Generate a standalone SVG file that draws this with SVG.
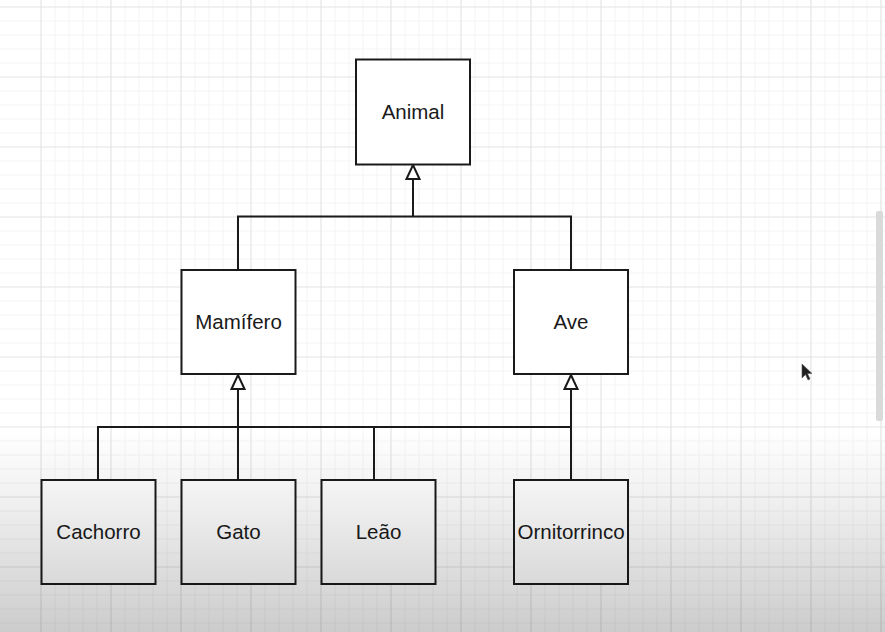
<svg xmlns="http://www.w3.org/2000/svg" width="885" height="632" viewBox="0 0 885 632">
  <defs>
    <style>
      .grid { stroke: #e4e4e4; stroke-width: 1.2; fill: none; }
      .minor { stroke: #f4f4f4; stroke-width: 1; fill: none; }
      .box { fill: #ffffff; stroke: #1a1a1a; stroke-width: 2; }
      .label { font-family: "Liberation Sans", Arial, sans-serif; font-size: 20.5px; fill: #1a1a1a; text-anchor: middle; }
      .edge { fill: none; stroke: #1a1a1a; stroke-width: 2; }
    </style>
    <marker id="inherit" viewBox="0 0 16 16" refX="15" refY="8" markerWidth="16" markerHeight="16" markerUnits="userSpaceOnUse" orient="auto">
      <path d="M1,1.5 L15,8 L1,14.5 Z" fill="#ffffff" stroke="#1a1a1a" stroke-width="2" stroke-linejoin="miter"/>
    </marker>
    <linearGradient id="shade" x1="0" y1="0" x2="0" y2="1">
      <stop offset="0" stop-color="#000000" stop-opacity="0"/>
      <stop offset="0.35" stop-color="#000000" stop-opacity="0.06"/>
      <stop offset="1" stop-color="#000000" stop-opacity="0.2"/>
    </linearGradient>
  </defs>

  <rect width="885" height="632" fill="#ffffff"/>

  <g id="grid">
    <path class="minor" d="M55,0V632M69,0V632M83,0V632M97,0V632M125,0V632M139,0V632M153,0V632M167,0V632M195,0V632M209,0V632M223,0V632M237,0V632M265,0V632M279,0V632M293,0V632M307,0V632M335,0V632M349,0V632M363,0V632M377,0V632M405,0V632M419,0V632M433,0V632M447,0V632M475,0V632M489,0V632M503,0V632M517,0V632M545,0V632M559,0V632M573,0V632M587,0V632M615,0V632M629,0V632M643,0V632M657,0V632M685,0V632M699,0V632M713,0V632M727,0V632M755,0V632M769,0V632M783,0V632M797,0V632M825,0V632M839,0V632M853,0V632M867,0V632"/>
    <path class="minor" d="M0,21H885M0,35H885M0,49H885M0,63H885M0,91H885M0,105H885M0,119H885M0,133H885M0,161H885M0,175H885M0,189H885M0,203H885M0,231H885M0,245H885M0,259H885M0,273H885M0,301H885M0,315H885M0,329H885M0,343H885M0,371H885M0,385H885M0,399H885M0,413H885M0,441H885M0,455H885M0,469H885M0,483H885M0,511H885M0,525H885M0,539H885M0,553H885M0,581H885M0,595H885M0,609H885M0,623H885"/>
    <path class="grid" d="M41,0V632M111,0V632M181,0V632M251,0V632M321,0V632M391,0V632M461,0V632M531,0V632M601,0V632M671,0V632M741,0V632M811,0V632M881,0V632"/>
    <path class="grid" d="M0,7H885M0,77H885M0,147H885M0,217H885M0,287H885M0,357H885M0,427H885M0,497H885M0,567H885"/>
  </g>

  <g id="connectors">
    <path class="edge" d="M238,270 V216.5 H571 V270"/>
    <path class="edge" d="M413,216.5 V165" marker-end="url(#inherit)"/>
    <path class="edge" d="M98,480 V427 H571"/>
    <path class="edge" d="M374,480 V427"/>
    <path class="edge" d="M238,480 V375" marker-end="url(#inherit)"/>
    <path class="edge" d="M571,480 V375" marker-end="url(#inherit)"/>
  </g>

  <g id="animal">
    <rect class="box" x="356" y="59.5" width="114" height="105"/>
    <text class="label" x="413" y="119">Animal</text>
  </g>
  <g id="mamifero">
    <rect class="box" x="181.5" y="270" width="114" height="104"/>
    <text class="label" x="238.5" y="329">Mamífero</text>
  </g>
  <g id="ave">
    <rect class="box" x="514" y="270" width="114" height="104"/>
    <text class="label" x="571" y="329">Ave</text>
  </g>
  <g id="cachorro">
    <rect class="box" x="41.5" y="480" width="114" height="104"/>
    <text class="label" x="98.5" y="539">Cachorro</text>
  </g>
  <g id="gato">
    <rect class="box" x="181.5" y="480" width="114" height="104"/>
    <text class="label" x="238.5" y="539">Gato</text>
  </g>
  <g id="leao">
    <rect class="box" x="321.5" y="480" width="114" height="104"/>
    <text class="label" x="378.5" y="539">Leão</text>
  </g>
  <g id="ornitorrinco">
    <rect class="box" x="514" y="480" width="114" height="104"/>
    <text class="label" x="571" y="539">Ornitorrinco</text>
  </g>

  <g id="screen">
    <rect x="0" y="430" width="885" height="202" fill="url(#shade)"/>
    <rect x="876" y="211" width="7" height="210" rx="2" fill="#dadada"/>
    <path d="M802,364 L802,378 L805.5,374.5 L808,380 L810,379 L807.5,373.5 L812,373.5 Z" fill="#222222" stroke="#555555" stroke-width="0.6"/>
  </g>
</svg>
